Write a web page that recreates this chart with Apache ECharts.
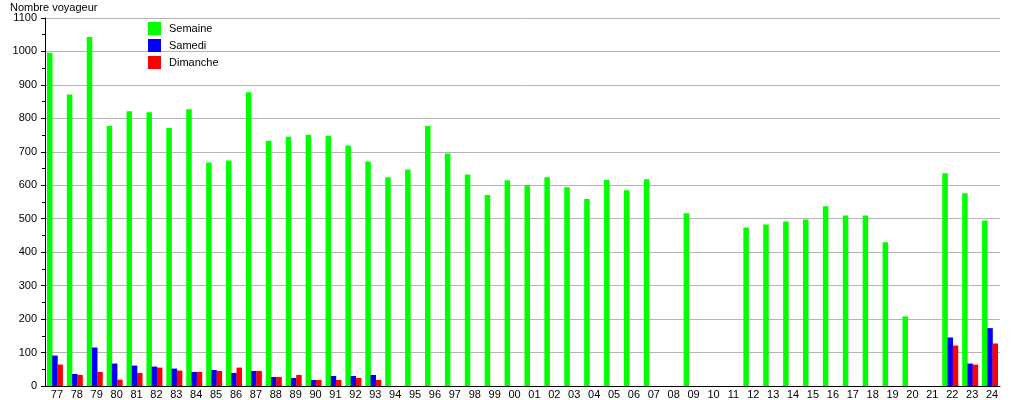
<!DOCTYPE html>
<html>
<head>
<meta charset="utf-8">
<script src="https://cdn.jsdelivr.net/npm/echarts@6/dist/echarts.min.js"></script>
<style>
html,body{margin:0;padding:0;background:#fff;}
#c{width:1015px;height:400px;}
</style>
</head>
<body>
<div id="c"></div>
<script>
var years = ['77','78','79','80','81','82','83','84','85','86','87','88','89','90','91','92','93','94','95','96','97','98','99',
  '00','01','02','03','04','05','06','07','08','09','10','11','12','13','14','15','16','17','18','19','20','21','22','23','24'];
var semaine = [996,871,1043,777,821,818,771,827,668,674,878,733,745,751,748,719,671,624,647,777,695,632,571,
  615,600,624,594,559,616,585,618,null,516,null,null,474,483,492,498,537,510,510,430,208,null,636,576,495];
var samedi = [91,36,115,67,61,58,52,42,48,39,45,27,24,18,30,30,33,
  null,null,null,null,null,null,null,null,null,null,null,null,null,null,null,null,null,null,null,null,null,null,null,null,null,null,null,null,
  145,67,173];
var dimanche = [64,33,42,19,39,55,46,42,45,55,45,27,33,18,18,24,18,
  null,null,null,null,null,null,null,null,null,null,null,null,null,null,null,null,null,null,null,null,null,null,null,null,null,null,null,null,
  121,64,127];
var yTicks = {min:0, max:1100, step:100};

var FONT = 'Liberation Sans, Arial, sans-serif';
var chart = echarts.init(document.getElementById('c'), null, {renderer:'canvas'});
chart.setOption({
  animation:false,
  backgroundColor:'#fff',
  textStyle:{fontFamily:FONT},
  title:{text:'Nombre voyageur', left:10, top:2, padding:0, textStyle:{fontSize:11, fontWeight:'normal', color:'#000', fontFamily:FONT}},
  legend:{
    orient:'vertical', left:148, top:22, padding:0, itemWidth:13, itemHeight:13, itemGap:4,
    icon:'rect', selectedMode:false,
    textStyle:{fontSize:11, color:'#000', fontFamily:FONT, padding:[0,0,0,3]},
    data:['Semaine','Samedi','Dimanche']
  },
  grid:{left:45, right:15, top:18, bottom:13, containLabel:false},
  xAxis:{
    type:'category', data:years,
    axisTick:{show:false},
    axisLine:{lineStyle:{color:'#000', width:1}},
    axisLabel:{fontSize:11, color:'#000', margin:3, interval:0, fontFamily:FONT, padding:[0,0,0,4]},
    splitLine:{show:false}
  },
  yAxis:{
    type:'value', min:yTicks.min, max:yTicks.max, interval:yTicks.step,
    axisLine:{show:true, lineStyle:{color:'#000', width:1}},
    axisTick:{show:true, length:4, lineStyle:{color:'#000'}},
    minorTick:{show:true, splitNumber:2, length:3, lineStyle:{color:'#000'}},
    axisLabel:{fontSize:11, color:'#000', margin:8, fontFamily:FONT, formatter:function(v){return String(v);}},
    splitLine:{show:true, lineStyle:{color:'#b4b4b4', width:1}}
  },
  series:[
    {name:'Semaine', type:'bar', data:semaine, barWidth:5.5, barGap:'-5%', itemStyle:{color:'#00ff00'}},
    {name:'Samedi', type:'bar', data:samedi, barWidth:5.5, barGap:'-5%', itemStyle:{color:'#0000ff'}},
    {name:'Dimanche', type:'bar', data:dimanche, barWidth:5.5, barGap:'-5%', itemStyle:{color:'#ff0000'}}
  ]
});
</script>
</body>
</html>
